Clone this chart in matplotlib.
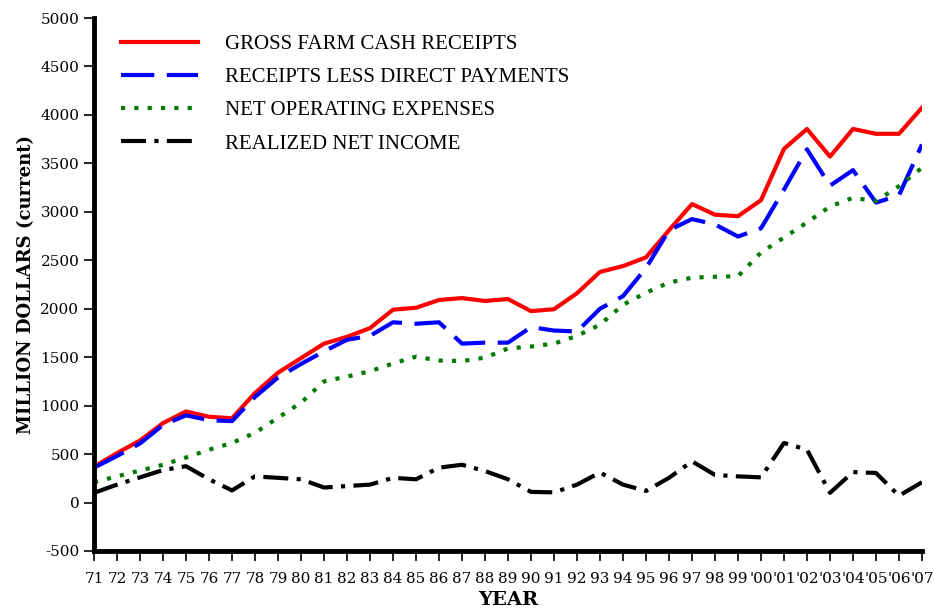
import numpy as np
import matplotlib
matplotlib.use('Agg')
from matplotlib import pyplot as plt

# data (million dollars)
years = list(range(1971, 2008))
gross = [370, 510, 640, 820, 940, 885, 870, 1130, 1340, 1490,
         1640, 1710, 1800, 1990, 2010, 2090, 2110, 2080, 2100, 1975,
         1995, 2160, 2380, 2440, 2530, 2810, 3080, 2970, 2955, 3120,
         3650, 3855, 3570, 3855, 3805, 3805, 4075]
less_direct = [360, 480, 610, 800, 900, 850, 840, 1090, 1290, 1430,
               1560, 1680, 1720, 1860, 1845, 1860, 1640, 1650, 1650, 1810,
               1775, 1765, 2000, 2130, 2420, 2810, 2925, 2870, 2745, 2830,
               3230, 3645, 3270, 3430, 3095, 3170, 3695]
net_expenses = [210, 270, 330, 390, 465, 545, 615, 720, 875, 1030,
                1250, 1300, 1355, 1435, 1505, 1465, 1460, 1495, 1590, 1610,
                1640, 1720, 1835, 2040, 2165, 2270, 2320, 2330, 2335, 2580,
                2735, 2890, 3055, 3145, 3110, 3265, 3455]
net_income = [100, 185, 260, 335, 375, 240, 125, 270, 255, 240,
              155, 170, 185, 255, 240, 360, 390, 325, 240, 110,
              105, 185, 310, 185, 120, 255, 425, 285, 270, 260,
              615, 545, 100, 315, 305, 70, 210]
year_labels = [str(y)[2:] if y < 2000 else "'" + str(y)[2:] for y in years]

plt.rcParams['font.family'] = ['DejaVu Serif']
plt.rcParams['axes.unicode_minus'] = False

fig = plt.figure(figsize=(9.34, 6.13), dpi=100)
ax = fig.add_axes([94 / 934, 1 - 551 / 613, (922 - 94) / 934, (551 - 18) / 613])

ax.plot(years, gross, color='#ff0000', lw=3, label='GROSS FARM CASH RECEIPTS')
ax.plot(years, less_direct, color='#0000ff', lw=3, dashes=(8, 3),
        label='RECEIPTS LESS DIRECT PAYMENTS')
ax.plot(years, net_expenses, color='#007a00', lw=3, dashes=(1, 2.2),
        label='NET OPERATING EXPENSES')
ax.plot(years, net_income, color='black', lw=3, dashes=(6, 2, 1, 2),
        label='REALIZED NET INCOME')

ax.set_xlim(1971, 2007)
ax.set_ylim(-500, 5000)
ax.set_xticks(years)
ax.set_xticklabels(year_labels, fontsize=11)
ax.set_yticks(np.arange(-500, 5001, 500))
ax.tick_params(axis='y', labelsize=11, length=7, width=1.2, direction='out')
ax.tick_params(axis='x', length=7, width=1.2, direction='out', pad=8)

for s in ['top', 'right']:
    ax.spines[s].set_visible(False)
for s in ['left', 'bottom']:
    ax.spines[s].set_linewidth(3.5)

ax.set_ylabel('MILLION DOLLARS (current)', fontsize=13, fontweight='bold')
ax.set_xlabel('YEAR', fontsize=14, fontweight='bold', labelpad=4)

leg = ax.legend(loc='upper left', bbox_to_anchor=(0.01, 1.004), frameon=False,
                prop={'family': 'Liberation Serif', 'size': 15},
                handlelength=3.7, handletextpad=1.3, labelspacing=0.65)

plt.savefig('out.png', dpi=100)
